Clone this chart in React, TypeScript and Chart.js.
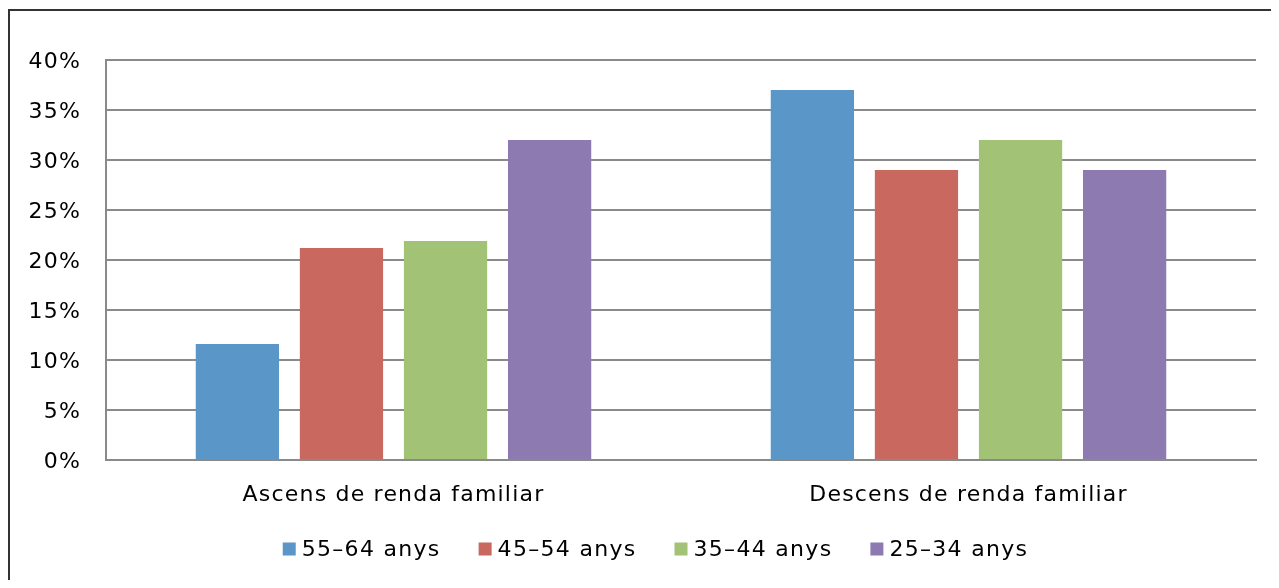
import React, { useEffect, useRef } from "react";
import { Chart, registerables } from "chart.js";

Chart.register(...registerables);

const categories = ["Ascens de renda familiar", "Descens de renda familiar"];
const seriesLabels = ["55–64 anys", "45–54 anys", "35–44 anys", "25–34 anys"];
const s5564 = [11.6, 37.0];
const s4554 = [21.2, 29.0];
const s3544 = [21.9, 32.0];
const s2534 = [32.0, 29.0];
const seriesColors = ["#5B96C8", "#C8685F", "#A2C375", "#8C7AB0"];
const yTicks = [0, 5, 10, 15, 20, 25, 30, 35, 40];

const FONT = "DejaVu Sans";
const SPACING = "1.2px";

const textSpacing = {
  id: "textSpacing",
  beforeLayout(chart: any) {
    (chart.ctx as any).letterSpacing = SPACING;
  },
  beforeDraw(chart: any) {
    (chart.ctx as any).letterSpacing = SPACING;
  },
};

const customLegend = {
  id: "customLegend",
  afterDraw(chart: any) {
    const ctx = chart.ctx;
    ctx.save();
    ctx.font = `22px "${FONT}"`;
    (ctx as any).letterSpacing = "1.3px";
    ctx.textBaseline = "middle";
    ctx.textAlign = "left";
    const box = 13;
    const gap = 6;
    const itemGap = 38;
    const items = chart.data.datasets.map((d: any) => ({
      label: d.label,
      color: d.backgroundColor,
      w: ctx.measureText(d.label).width,
    }));
    const total =
      items.reduce((a: number, it: any) => a + box + gap + it.w, 0) +
      itemGap * (items.length - 1);
    const cx = 645.5;
    const cy = 538;
    let x = cx - total / 2;
    for (const it of items) {
      ctx.fillStyle = it.color;
      ctx.fillRect(x, cy - box / 2, box, box);
      ctx.fillStyle = "#000";
      ctx.fillText(it.label, x + box + gap, cy + 1);
      x += box + gap + it.w + itemGap;
    }
    ctx.restore();
  },
};

export default function App() {
  const ref = useRef<HTMLCanvasElement>(null);
  useEffect(() => {
    if (!ref.current) return;
    const data = [s5564, s4554, s3544, s2534];
    const chart = new Chart(ref.current, {
      type: "bar",
      data: {
        labels: categories,
        datasets: data.map((vals, i) => ({
          label: seriesLabels[i],
          data: vals,
          backgroundColor: seriesColors[i],
          borderWidth: 0,
          categoryPercentage: 0.724,
          barPercentage: 0.8,
        })),
      },
      options: {
        animation: false,
        responsive: false,
        maintainAspectRatio: false,
        layout: { padding: { top: 49, left: 10, right: 23, bottom: 60 } },
        plugins: {
          legend: { display: false },
          tooltip: { enabled: false },
        },
        scales: {
          x: {
            grid: { display: false },
            border: { display: true, color: "#8A8A8A", width: 2 },
            ticks: {
              color: "#000",
              font: { family: FONT, size: 22 },
              padding: 14,
              maxRotation: 0,
            },
            afterFit(scale: any) {
              scale.height = 60;
            },
          },
          y: {
            min: 0,
            max: 40,
            afterBuildTicks(scale: any) {
              scale.ticks = yTicks.map((v) => ({ value: v }));
            },
            grid: { color: "#8A8A8A", lineWidth: 2, drawTicks: false },
            border: { display: true, color: "#8A8A8A", width: 2 },
            ticks: {
              color: "#000",
              font: { family: FONT, size: 22 },
              padding: 25,
              labelOffset: 2,
              callback: (v: any) => `${v}%`,
            },
            afterFit(scale: any) {
              scale.width = 86;
            },
          },
        },
      },
      plugins: [textSpacing, customLegend],
    });
    return () => chart.destroy();
  }, []);

  return (
    <div
      style={{
        position: "relative",
        marginTop: 1,
        width: 1271,
        height: 571,
        borderTop: "2px solid #333",
        borderLeft: "2px solid #333",
        boxSizing: "border-box",
        overflow: "hidden",
        background: "#fff",
      }}
    >
      <canvas ref={ref} width={1269} height={569} style={{ display: "block" }} />
    </div>
  );
}
